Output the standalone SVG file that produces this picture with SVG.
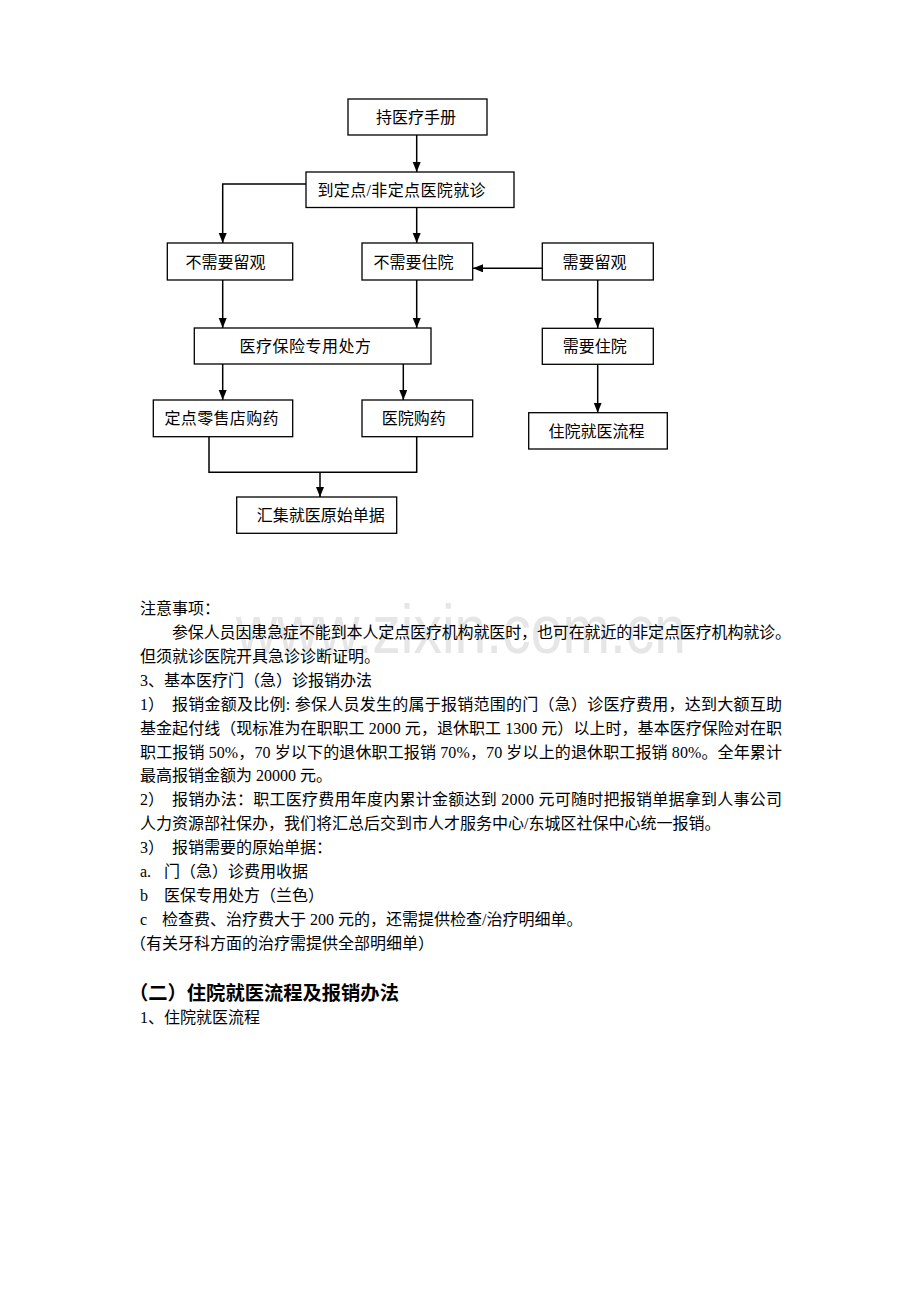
<svg xmlns="http://www.w3.org/2000/svg" width="920" height="1302" viewBox="0 0 920 1302">
<defs>
<marker id="arr" markerUnits="userSpaceOnUse" markerWidth="10" markerHeight="10" refX="10" refY="4" orient="auto">
<path d="M0,0 L10,4 L0,8 Z" fill="#000"/>
</marker>
<style>
.box{fill:#fff;stroke:#000;stroke-width:1.3}
.bt{font-family:"Liberation Serif","Noto Sans CJK SC",serif;font-size:16px;fill:#000}
.t{font-family:"Liberation Serif","Noto Sans CJK SC",serif;font-size:16px;fill:#000}
.h{font-family:"Liberation Serif","Noto Sans CJK SC",serif;font-size:19.3px;font-weight:bold;fill:#000}
.c{fill:none;stroke:#000;stroke-width:1.5}
.wm{font-family:"Liberation Sans",Arial,sans-serif;font-size:68px;fill:#e6e6e6}
</style>
</defs>
<rect width="920" height="1302" fill="#fff"/>
<text class="wm" x="236" y="653" textLength="450" lengthAdjust="spacingAndGlyphs">www.zixin.com.cn</text>

<g id="connectors">
<path class="c" d="M416.7,135 V172" marker-end="url(#arr)"/>
<path class="c" d="M306,184 H222.7 V243" marker-end="url(#arr)"/>
<path class="c" d="M416.7,207 V243" marker-end="url(#arr)"/>
<path class="c" d="M542,268.3 H473" marker-end="url(#arr)"/>
<path class="c" d="M222.7,280 V328" marker-end="url(#arr)"/>
<path class="c" d="M416.7,280 V328" marker-end="url(#arr)"/>
<path class="c" d="M597.7,280 V328" marker-end="url(#arr)"/>
<path class="c" d="M222.7,364 V400" marker-end="url(#arr)"/>
<path class="c" d="M403.3,364 V400" marker-end="url(#arr)"/>
<path class="c" d="M597.7,364 V412.7" marker-end="url(#arr)"/>
<path class="c" d="M209,436.7 V472.3 H416.7 V436.7"/>
<path class="c" d="M320,472.3 V497" marker-end="url(#arr)"/>
</g>

<g id="n1"><rect class="box" x="348" y="99" width="139" height="36"/><text class="bt" x="376" y="123">持医疗手册</text></g>
<g id="n2"><rect class="box" x="306" y="172" width="208" height="35.5"/><text class="bt" x="317.5" y="195.5" textLength="168" lengthAdjust="spacing">到定点/非定点医院就诊</text></g>
<g id="n3"><rect class="box" x="167.3" y="243" width="125.4" height="37"/><text class="bt" x="185.5" y="267.5">不需要留观</text></g>
<g id="n4"><rect class="box" x="362" y="243" width="110.7" height="37"/><text class="bt" x="373.5" y="267.5">不需要住院</text></g>
<g id="n5"><rect class="box" x="542.3" y="243" width="111" height="37"/><text class="bt" x="562.5" y="267.5">需要留观</text></g>
<g id="n6"><rect class="box" x="194.3" y="328" width="236.7" height="36"/><text class="bt" x="239.5" y="352" textLength="131.5" lengthAdjust="spacing">医疗保险专用处方</text></g>
<g id="n7"><rect class="box" x="542.3" y="328.3" width="111" height="36"/><text class="bt" x="562.8" y="352">需要住院</text></g>
<g id="n8"><rect class="box" x="153.3" y="400" width="139.4" height="36.7"/><text class="bt" x="164.5" y="424" textLength="114" lengthAdjust="spacing">定点零售店购药</text></g>
<g id="n9"><rect class="box" x="362" y="400" width="110.7" height="36.7"/><text class="bt" x="381.8" y="424">医院购药</text></g>
<g id="n10"><rect class="box" x="528.7" y="412.7" width="138.6" height="36.3"/><text class="bt" x="548.5" y="437">住院就医流程</text></g>
<g id="n11"><rect class="box" x="236.7" y="497" width="160" height="36.3"/><text class="bt" x="256.8" y="521">汇集就医原始单据</text></g>

<g id="body">
<text class="t" x="140" y="614">注意事项：</text>
<text class="t" x="172" y="638" textLength="619" lengthAdjust="spacing">参保人员因患急症不能到本人定点医疗机构就医时，也可在就近的非定点医疗机构就诊。</text>
<text class="t" x="140" y="662">但须就诊医院开具急诊诊断证明。</text>
<text class="t" x="140" y="686">3、基本医疗门（急）诊报销办法</text>
<text class="t" x="140" y="710">1）</text>
<text class="t" x="172" y="710" textLength="610" lengthAdjust="spacing">报销金额及比例: 参保人员发生的属于报销范围的门（急）诊医疗费用，达到大额互助</text>
<text class="t" x="140" y="733.5" textLength="642" lengthAdjust="spacing">基金起付线（现标准为在职职工 2000 元，退休职工 1300 元）以上时，基本医疗保险对在职</text>
<text class="t" x="140" y="757.5" textLength="642" lengthAdjust="spacing">职工报销 50%，70 岁以下的退休职工报销 70%，70 岁以上的退休职工报销 80%。全年累计</text>
<text class="t" x="140" y="781">最高报销金额为 20000 元。</text>
<text class="t" x="140" y="805">2）</text>
<text class="t" x="172" y="805" textLength="610" lengthAdjust="spacing">报销办法：职工医疗费用年度内累计金额达到 2000 元可随时把报销单据拿到人事公司</text>
<text class="t" x="140" y="829">人力资源部社保办，我们将汇总后交到市人才服务中心/东城区社保中心统一报销。</text>
<text class="t" x="140" y="853">3）</text>
<text class="t" x="172" y="853">报销需要的原始单据：</text>
<text class="t" x="140" y="877">a.</text>
<text class="t" x="164" y="877">门（急）诊费用收据</text>
<text class="t" x="140" y="901">b</text>
<text class="t" x="164" y="901">医保专用处方（兰色）</text>
<text class="t" x="140" y="925">c</text>
<text class="t" x="162" y="925">检查费、治疗费大于 200 元的，还需提供检查/治疗明细单。</text>
<text class="t" x="130" y="949">（有关牙科方面的治疗需提供全部明细单）</text>
<text class="h" x="129" y="1000">（二）住院就医流程及报销办法</text>
<text class="t" x="140" y="1023">1、住院就医流程</text>
</g>
</svg>
